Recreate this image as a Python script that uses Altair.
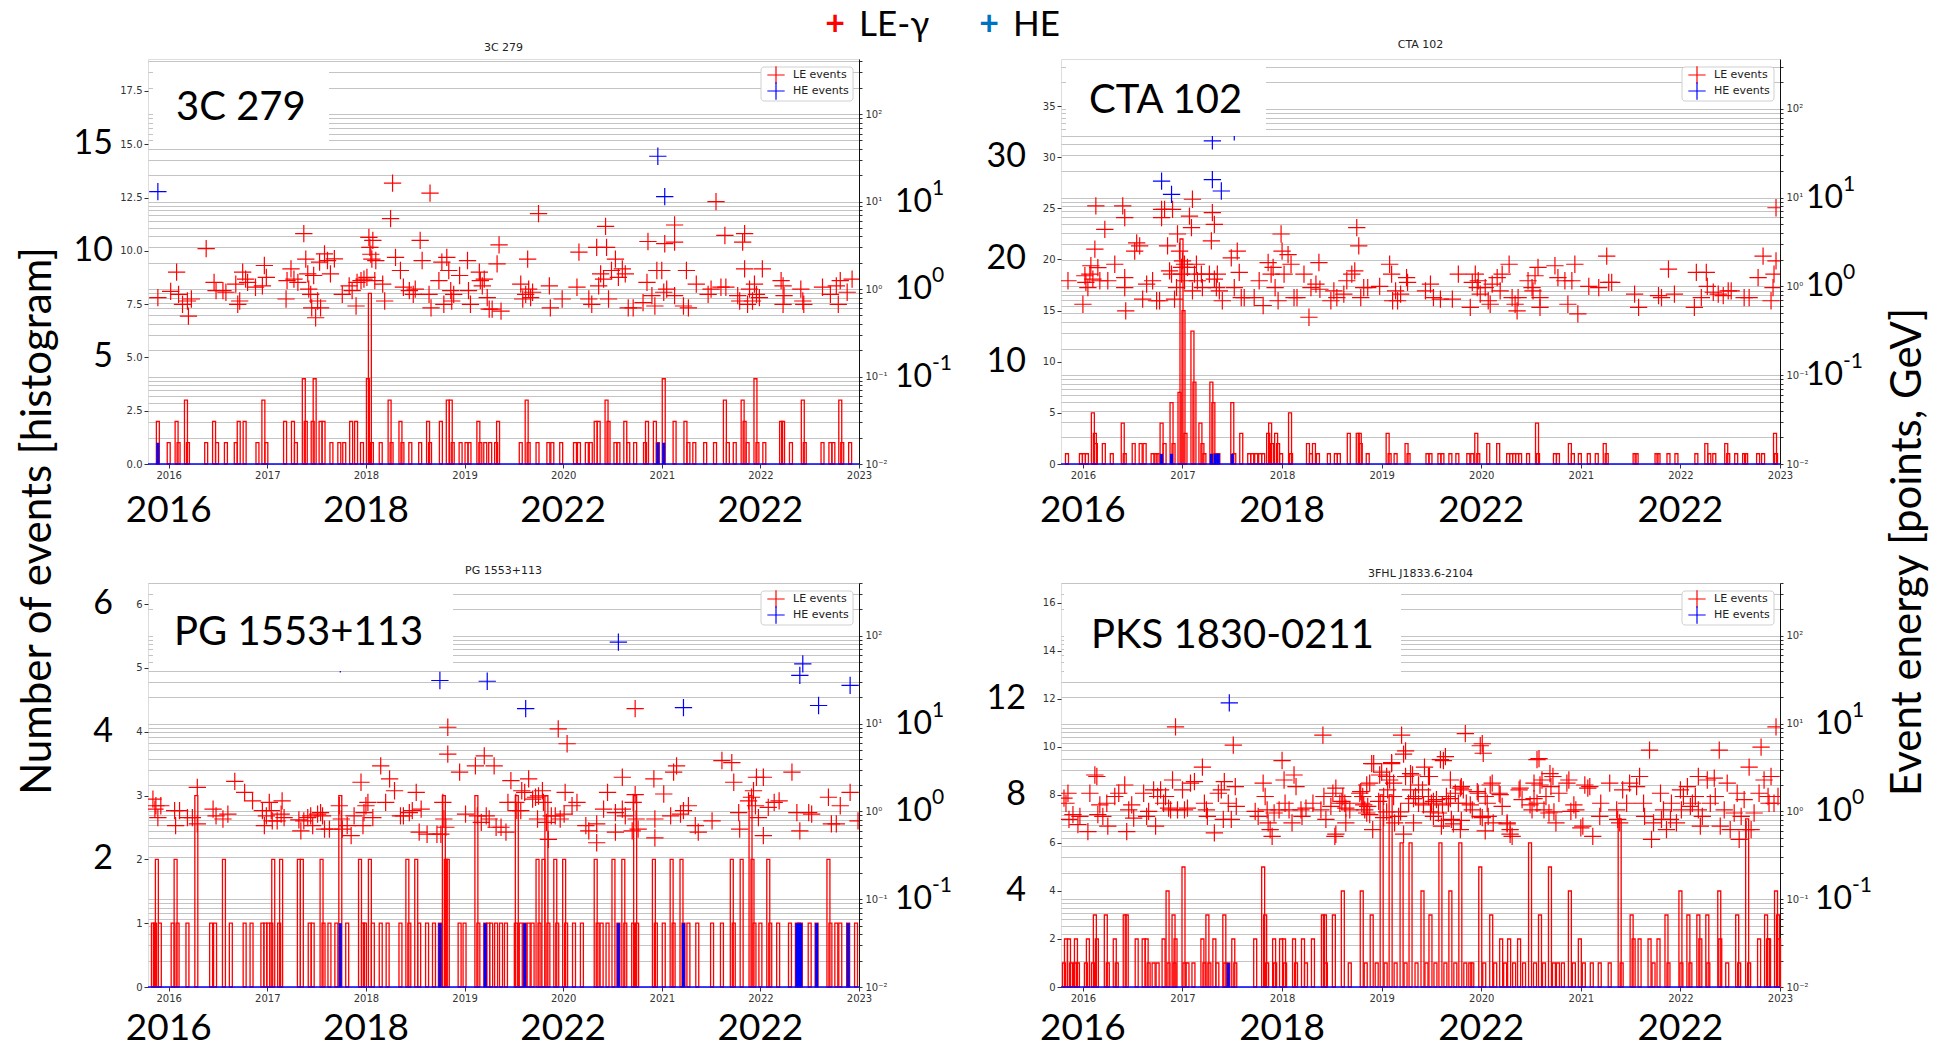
import altair as alt
import pandas as pd

BIG = "Lato"
SMALL = "DejaVu Sans"
RED = "#ff0000"
BLUE = "#0000ff"
CROSS = "M-1,0H1M0,-1V1"
BIN = 0.03  # histogram bin width in years

LOG_TICKS = [m * 10.0 ** k for k in range(-2, 3) for m in range(1, 10)]
LOG_LABELS = ("datum.value == 0.01 ? '10⁻²' : datum.value == 0.1 ? '10⁻¹' : "
              "datum.value == 1 ? '10⁰' : datum.value == 10 ? '10¹' : "
              "datum.value == 100 ? '10²' : ''")
YEARS = [2016, 2017, 2018, 2019, 2020, 2021, 2022, 2023]
BIG_YEAR_POS = [2016, 2018, 2020, 2022]
BIG_YEAR_TEXT = ["2016", "2018", "2022", "2022"]

# ---------------- 3C 279 ----------------
P1_HIST = [(2015.89,2),(2016.00,1),(2016.08,2),(2016.10,1),(2016.175,3),(2016.195,1),(2016.38,1),(2016.46,2),(2016.49,1),(2016.58,1),
           (2016.68,1),(2016.71,2),(2016.77,2),(2016.90,1),(2016.96,3),(2016.99,1),(2017.18,2),(2017.26,2),(2017.29,1),(2017.37,4),
           (2017.39,2),(2017.46,2),(2017.48,4),(2017.54,2),(2017.57,2),(2017.65,1),(2017.73,1),(2017.78,1),(2017.85,2),(2017.90,2),
           (2017.96,1),(2018.02,4),(2018.04,8),(2018.06,1),(2018.15,1),(2018.24,3),(2018.26,1),(2018.35,2),(2018.37,1),(2018.45,1),
           (2018.55,1),(2018.63,2),(2018.65,1),(2018.76,2),(2018.83,3),(2018.86,3),(2018.88,1),(2018.96,1),(2019.02,1),(2019.05,1),
           (2019.14,2),(2019.16,1),(2019.21,1),(2019.26,1),(2019.32,1),(2019.34,2),(2019.57,1),(2019.63,3),(2019.65,1),(2019.74,1),
           (2019.85,1),(2019.89,1),(2019.98,1),(2020.12,1),(2020.16,1),(2020.24,1),(2020.28,1),(2020.33,2),(2020.36,2),(2020.44,3),
           (2020.46,2),(2020.53,1),(2020.56,1),(2020.63,2),(2020.66,1),(2020.73,1),(2020.83,1),(2020.85,2),(2020.93,2),(2020.96,1),
           (2021.02,4),(2021.13,2),(2021.24,2),(2021.27,1),(2021.33,1),(2021.44,1),(2021.54,1),(2021.64,3),(2021.67,1),(2021.74,1),
           (2021.82,3),(2021.84,2),(2021.87,1),(2021.95,4),(2021.97,1),(2022.04,1),(2022.21,2),(2022.23,2),(2022.31,1),(2022.43,3),
           (2022.45,1),(2022.63,1),(2022.71,1),(2022.74,1),(2022.81,3),(2022.83,1),(2022.91,1)]
P1_HE_HIST = [(2015.89,1),(2020.96,1),(2021.02,1)]
P1_LE = [(2015.89,0.80),(2016.02,0.94),(2016.08,1.56),(2016.10,0.87),(2016.14,0.67),(2016.19,0.73),(2016.23,0.77),(2016.20,0.49),
         (2016.38,2.9),(2016.46,1.19),(2016.48,0.96),(2016.55,0.96),(2016.58,0.92),(2016.68,1.14),(2016.70,0.67),(2016.72,0.73),
         (2016.75,1.56),(2016.78,1.30),(2016.80,1.19),(2016.88,1.05),(2016.95,1.09),(2016.97,1.86),(2016.99,1.36),(2017.19,0.77),
         (2017.20,1.25),(2017.24,1.70),(2017.27,1.30),(2017.31,1.19),(2017.37,4.3),(2017.39,2.2),(2017.41,1.49),(2017.42,1.0),
         (2017.44,0.87),(2017.45,0.61),(2017.47,1.43),(2017.49,0.47),(2017.51,0.73),(2017.53,2.03),(2017.54,0.61),(2017.58,2.53),
         (2017.61,2.12),(2017.64,1.49),(2017.68,2.22),(2017.76,0.87),(2017.83,1.09),(2017.86,0.96),(2017.90,0.64),(2017.91,1.19),
         (2017.95,1.25),(2017.98,1.30),(2018.01,1.36),(2018.03,3.9),(2018.04,3.0),(2018.05,2.5),(2018.06,2.2),(2018.07,3.6),
         (2018.09,1.25),(2018.10,2.12),(2018.17,1.14),(2018.19,0.73),(2018.25,6.4),(2018.27,16.3),(2018.30,2.3),(2018.35,1.63),
         (2018.38,1.05),(2018.44,0.96),(2018.48,0.87),(2018.50,1.0),(2018.55,3.6),(2018.57,2.12),(2018.64,0.87),(2018.66,0.61),
         (2018.65,12.5),(2018.74,1.25),(2018.77,2.03),(2018.79,0.67),(2018.82,2.3),(2018.84,1.63),(2018.86,0.96),(2018.87,0.73),
         (2018.89,0.87),(2018.95,1.43),(2019.03,2.12),(2019.04,0.96),(2019.06,0.67),(2019.15,1.56),(2019.16,1.25),(2019.18,1.09),
         (2019.23,0.80),(2019.25,0.59),(2019.33,1.94),(2019.35,3.2),(2019.37,0.56),(2019.20,1.30),(2019.28,0.59),(2019.57,1.14),
         (2019.59,0.77),(2019.62,0.87),(2019.64,2.2),(2019.65,1.0),(2019.67,0.80),(2019.69,0.92),(2019.75,7.3),(2019.86,1.09),
         (2019.87,0.61),(2019.99,0.77),(2020.14,1.05),(2020.16,2.65),(2020.26,0.77),(2020.29,0.67),(2020.34,3.0),(2020.36,1.09),
         (2020.38,1.49),(2020.41,1.30),(2020.43,5.2),(2020.44,3.0),(2020.46,0.77),(2020.49,1.63),(2020.53,2.2),(2020.56,1.36),
         (2020.60,1.70),(2020.63,1.49),(2020.66,0.61),(2020.71,0.61),(2020.81,0.70),(2020.85,1.19),(2020.86,3.5),(2020.90,0.84),
         (2020.93,0.64),(2020.95,1.63),(2021.00,1.63),(2021.02,0.92),(2021.03,3.3),(2021.05,1.0),(2021.13,5.4),(2021.13,3.45),
         (2021.13,0.84),(2021.22,0.64),(2021.25,1.63),(2021.27,0.61),(2021.35,1.14),(2021.47,0.87),(2021.50,1.0),(2021.55,10.0),
         (2021.60,1.05),(2021.64,4.1),(2021.65,1.05),(2021.77,0.84),(2021.79,0.73),(2021.82,3.45),(2021.84,4.3),(2021.84,1.7),
         (2021.87,0.67),(2021.89,1.0),(2021.92,0.73),(2021.94,1.14),(2021.96,0.87),(2021.99,0.80),(2022.02,1.7),(2022.21,1.25),
         (2022.23,1.09),(2022.24,0.84),(2022.23,0.67),(2022.41,1.0),(2022.43,0.73),(2022.44,0.67),(2022.63,1.05),(2022.71,0.87),
         (2022.77,1.09),(2022.81,1.25),(2022.79,0.67),(2022.88,0.92),(2022.93,1.30)]
P1_HE = [(2015.89,13.0),(2020.96,33.0),(2021.03,11.4)]

# ---------------- CTA 102 ----------------
P2_HIST = [(2015.84,1),(2015.98,1),(2016.01,1),(2016.04,1),(2016.10,5),(2016.12,3),(2016.13,2),(2016.21,2),(2016.29,1),(2016.40,4),
           (2016.42,1),(2016.51,2),(2016.58,2),(2016.62,2),(2016.70,1),(2016.73,1),(2016.75,1),(2016.79,4),(2016.82,2),(2016.89,6),
           (2016.91,2),(2016.97,7),(2016.99,22),(2017.01,15),(2017.03,3),(2017.10,13),(2017.12,8),(2017.18,4),(2017.20,2),(2017.22,1),
           (2017.29,8),(2017.31,6),(2017.33,1),(2017.36,1),(2017.50,6),(2017.52,1),(2017.59,3),(2017.67,1),(2017.70,1),(2017.74,1),
           (2017.78,1),(2017.81,1),(2017.86,3),(2017.88,4),(2017.90,2),(2017.94,3),(2017.96,2),(2017.99,1),(2018.08,5),(2018.09,1),
           (2018.26,2),(2018.29,1),(2018.32,2),(2018.36,1),(2018.47,1),(2018.54,1),(2018.57,1),(2018.67,3),(2018.76,3),(2018.78,3),
           (2018.79,2),(2018.86,1),(2019.06,3),(2019.08,1),(2019.14,1),(2019.25,2),(2019.27,1),(2019.46,1),(2019.49,1),(2019.58,1),
           (2019.61,1),(2019.69,1),(2019.76,1),(2019.87,1),(2019.91,1),(2019.95,3),(2019.97,1),(2020.07,2),(2020.17,2),(2020.27,1),
           (2020.30,1),(2020.33,1),(2020.36,1),(2020.39,1),(2020.47,1),(2020.56,4),(2020.57,1),(2020.74,1),(2020.77,1),(2020.89,2),
           (2020.92,1),(2020.99,1),(2021.08,1),(2021.16,1),(2021.24,2),(2021.26,1),(2021.54,1),(2021.56,1),(2021.76,1),(2021.78,1),
           (2021.88,1),(2021.96,1),(2022.16,1),(2022.26,2),(2022.29,1),(2022.34,1),(2022.46,2),(2022.48,1),(2022.56,1),(2022.64,1),
           (2022.66,1),(2022.78,1),(2022.83,1),(2022.95,3),(2022.96,1)]
P2_HE_HIST = [(2016.79,1),(2016.89,1),(2017.29,1),(2017.33,1),(2017.36,1),(2017.50,1)]
P2_LE = [(2015.85,1.16),(2016.00,0.63),(2016.02,1.32),(2016.03,1.11),(2016.05,0.97),(2016.07,1.38),(2016.08,1.71),(2016.10,1.21),
         (2016.12,2.63),(2016.13,8.1),(2016.15,1.63),(2016.17,1.16),(2016.22,4.4),(2016.25,1.16),(2016.32,1.78),(2016.40,8.1),
         (2016.42,5.95),(2016.42,1.26),(2016.42,0.97),(2016.43,0.53),(2016.52,2.5),(2016.54,3.1),(2016.57,2.87),(2016.64,1.06),
         (2016.60,0.72),(2016.70,1.16),(2016.74,0.69),(2016.79,7.4),(2016.79,5.95),(2016.77,0.69),(2016.82,7.4),(2016.85,2.87),
         (2016.87,1.5),(2016.89,1.38),(2016.90,7.4),(2016.92,0.72),(2016.94,0.97),(2016.95,3.9),(2016.97,2.5),(2016.99,1.64),
         (2016.99,1.38),(2017.00,1.94),(2017.02,1.78),(2017.02,1.16),(2017.05,1.64),(2017.07,6.2),(2017.09,4.6),(2017.10,9.6),
         (2017.10,0.89),(2017.12,1.38),(2017.14,1.78),(2017.15,1.16),(2017.19,1.38),(2017.20,0.97),(2017.27,1.38),(2017.29,3.26),
         (2017.30,6.8),(2017.32,5.0),(2017.32,1.21),(2017.34,0.97),(2017.35,1.38),(2017.37,0.89),(2017.40,0.69),(2017.49,2.1),
         (2017.52,0.97),(2017.55,2.5),(2017.57,1.44),(2017.59,0.75),(2017.62,0.75),(2017.72,0.75),(2017.77,1.16),(2017.81,0.61),
         (2017.86,1.86),(2017.89,1.38),(2017.91,1.64),(2017.93,0.97),(2017.96,0.69),(2017.99,3.9),(2018.00,2.5),(2018.02,1.38),
         (2018.06,2.28),(2018.09,1.78),(2018.12,0.75),(2018.15,0.75),(2018.22,1.38),(2018.27,0.45),(2018.29,0.97),(2018.34,1.06),
         (2018.37,1.86),(2018.38,0.93),(2018.49,0.69),(2018.52,0.89),(2018.55,0.75),(2018.62,0.82),(2018.65,1.16),(2018.70,1.38),
         (2018.73,1.5),(2018.75,4.6),(2018.77,2.87),(2018.79,0.75),(2018.82,0.97),(2018.86,0.97),(2018.98,1.0),(2019.08,1.78),
         (2019.10,1.38),(2019.11,0.69),(2019.14,0.89),(2019.16,0.69),(2019.19,0.82),(2019.25,1.26),(2019.26,1.11),(2019.44,0.89),
         (2019.49,1.06),(2019.52,0.75),(2019.59,0.72),(2019.71,0.72),(2019.77,1.38),(2019.89,0.58),(2019.91,1.11),(2019.94,1.38),
         (2019.96,0.97),(2019.97,1.16),(2019.99,0.82),(2020.04,0.97),(2020.07,0.69),(2020.09,0.63),(2020.11,1.06),(2020.16,1.26),
         (2020.19,0.89),(2020.21,1.38),(2020.28,1.78),(2020.31,0.75),(2020.34,0.63),(2020.36,0.53),(2020.37,0.75),(2020.47,1.16),
         (2020.51,0.97),(2020.52,0.89),(2020.54,1.32),(2020.57,1.64),(2020.59,0.58),(2020.59,0.75),(2020.74,1.71),(2020.77,1.26),
         (2020.84,1.16),(2020.87,0.63),(2020.91,1.16),(2020.94,1.78),(2020.97,0.49),(2021.08,1.0),(2021.18,0.97),(2021.26,2.2),
         (2021.28,1.11),(2021.31,1.11),(2021.54,0.82),(2021.58,0.58),(2021.78,0.79),(2021.81,0.75),(2021.88,1.57),(2021.94,0.82),
         (2022.14,0.58),(2022.16,1.44),(2022.21,0.75),(2022.26,1.44),(2022.27,1.0),(2022.33,0.86),(2022.38,0.82),(2022.43,0.79),
         (2022.48,0.89),(2022.51,0.89),(2022.64,0.75),(2022.69,0.75),(2022.78,1.26),(2022.83,2.2),(2022.91,0.69),(2022.93,0.97),
         (2022.94,1.38),(2022.96,1.94),(2022.96,7.7)]
P2_HE = [(2016.79,15.4),(2016.89,10.9),(2017.30,43.6),(2017.30,16.0),(2017.39,11.9),(2017.52,55.0)]

# ---------------- PG 1553+113 ----------------
P3_HIST = [(2015.84,1),(2015.86,1),(2015.88,2),(2015.91,1),(2016.04,1),(2016.07,2),(2016.09,1),(2016.19,1),(2016.28,3),(2016.43,1),
           (2016.47,1),(2016.56,2),(2016.63,1),(2016.77,1),(2016.84,1),(2016.95,1),(2016.98,1),(2017.01,1),(2017.04,1),(2017.06,2),
           (2017.12,1),(2017.14,2),(2017.32,2),(2017.35,2),(2017.43,1),(2017.46,1),(2017.55,2),(2017.57,1),(2017.63,1),(2017.70,1),
           (2017.74,3),(2017.81,1),(2017.94,2),(2017.97,1),(2017.99,1),(2018.04,2),(2018.07,1),(2018.15,1),(2018.22,1),(2018.35,1),
           (2018.42,2),(2018.44,1),(2018.51,2),(2018.54,1),(2018.62,1),(2018.69,1),(2018.75,1),(2018.79,3),(2018.81,2),(2018.83,2),
           (2018.95,1),(2019.00,1),(2019.12,3),(2019.14,1),(2019.21,1),(2019.24,1),(2019.27,1),(2019.32,1),(2019.37,1),(2019.42,1),
           (2019.52,1),(2019.53,3),(2019.57,1),(2019.61,1),(2019.65,1),(2019.69,1),(2019.74,2),(2019.76,1),(2019.80,2),(2019.83,3),
           (2019.85,1),(2019.92,2),(2019.94,1),(2020.01,2),(2020.03,1),(2020.11,1),(2020.19,1),(2020.33,2),(2020.35,1),(2020.39,1),
           (2020.45,1),(2020.51,2),(2020.56,1),(2020.61,2),(2020.63,1),(2020.71,1),(2020.73,3),(2020.75,1),(2020.92,2),(2020.94,1),
           (2021.02,1),(2021.10,2),(2021.12,1),(2021.20,2),(2021.22,1),(2021.27,1),(2021.36,1),(2021.51,1),(2021.61,1),(2021.71,2),
           (2021.73,1),(2021.81,2),(2021.90,3),(2021.92,2),(2021.94,1),(2022.00,1),(2022.08,2),(2022.10,1),(2022.18,1),(2022.30,1),
           (2022.37,1),(2022.39,1),(2022.41,1),(2022.50,1),(2022.57,1),(2022.69,2),(2022.71,1),(2022.77,1),(2022.81,1),(2022.89,1),
           (2022.97,1)]
P3_HE_HIST = [(2017.74,1),(2018.75,1),(2019.21,1),(2019.61,1),(2020.56,1),(2021.22,1),(2022.37,1),(2022.39,1),(2022.41,1),
              (2022.57,1),(2022.89,1)]
P3_LE = [(2015.84,1.38),(2015.86,1.06),(2015.87,1.16),(2015.89,0.85),(2015.92,1.16),(2016.06,1.02),(2016.07,0.69),(2016.11,1.02),
         (2016.19,0.85),(2016.24,0.85),(2016.29,1.88),(2016.29,0.72),(2016.45,1.06),(2016.48,0.89),(2016.55,0.82),(2016.60,0.93),
         (2016.67,2.2),(2016.77,1.65),(2016.85,1.32),(2016.95,1.02),(2016.97,0.69),(2016.99,0.89),(2017.02,1.27),(2017.04,1.02),
         (2017.05,0.78),(2017.10,0.78),(2017.14,0.93),(2017.15,1.32),(2017.17,0.85),(2017.32,0.80),(2017.34,0.60),(2017.37,0.78),
         (2017.41,0.85),(2017.44,0.89),(2017.46,0.69),(2017.51,0.93),(2017.54,0.97),(2017.56,0.89),(2017.58,0.63),(2017.63,0.63),
         (2017.73,1.16),(2017.75,0.82),(2017.76,0.63),(2017.81,0.69),(2017.85,0.53),(2017.88,0.89),(2017.95,2.15),(2017.97,0.69),
         (2017.98,0.97),(2018.00,1.16),(2018.02,1.27),(2018.07,0.85),(2018.15,3.3),(2018.20,1.27),(2018.24,2.35),(2018.29,1.72),
         (2018.35,0.89),(2018.38,0.89),(2018.44,0.97),(2018.47,1.02),(2018.51,1.65),(2018.54,0.58),(2018.56,1.06),(2018.62,0.55),
         (2018.72,0.55),(2018.76,0.55),(2018.78,1.27),(2018.79,0.82),(2018.81,0.66),(2018.83,4.5),(2018.83,9.1),(2018.95,2.8),
         (2019.01,0.93),(2019.11,3.3),(2019.13,0.89),(2019.17,0.75),(2019.20,4.3),(2019.22,0.89),(2019.25,0.82),(2019.30,3.3),
         (2019.32,0.66),(2019.37,0.66),(2019.42,0.58),(2019.44,1.27),(2019.47,2.24),(2019.52,1.27),(2019.53,1.02),(2019.57,1.02),
         (2019.58,1.72),(2019.61,1.65),(2019.65,2.35),(2019.69,1.38),(2019.72,1.45),(2019.74,0.82),(2019.75,1.5),(2019.79,1.72),
         (2019.80,1.27),(2019.83,0.75),(2019.85,0.48),(2019.88,0.89),(2019.92,0.89),(2019.95,8.7),(2019.97,0.82),(2020.01,0.93),
         (2020.02,1.65),(2020.04,5.9),(2020.09,1.16),(2020.14,1.27),(2020.23,0.69),(2020.26,0.60),(2020.34,0.72),(2020.34,0.44),
         (2020.45,1.65),(2020.41,1.06),(2020.53,0.97),(2020.53,0.58),(2020.60,2.45),(2020.60,1.06),(2020.63,0.89),(2020.70,0.60),
         (2020.71,1.27),(2020.73,1.55),(2020.73,14.8),(2020.74,0.82),(2020.76,0.63),(2020.92,2.35),(2020.93,0.82),(2020.93,0.50),
         (2021.02,1.58),(2021.09,0.89),(2021.12,2.8),(2021.15,3.3),(2021.19,0.93),(2021.22,1.02),(2021.27,1.16),(2021.34,0.69),
         (2021.37,0.58),(2021.51,0.78),(2021.61,3.8),(2021.71,3.6),(2021.73,2.15),(2021.78,0.97),(2021.79,0.63),(2021.88,1.32),
         (2021.91,1.45),(2021.93,1.72),(2021.95,1.16),(2021.96,2.45),(2021.98,0.85),(2022.03,2.45),(2022.03,0.53),(2022.08,1.11),
         (2022.14,1.27),(2022.19,1.32),(2022.32,2.8),(2022.37,0.97),(2022.40,0.60),(2022.49,0.97),(2022.52,0.93),(2022.69,1.45),
         (2022.72,0.72),(2022.77,0.72),(2022.81,1.16),(2022.91,1.65),(2022.99,0.78)]
P3_HE = [(2017.74,48.0),(2018.75,31.0),(2019.23,30.4),(2019.62,14.8),(2020.56,85.0),(2021.22,15.2),(2022.40,35.5),
         (2022.43,48.0),(2022.59,16.1),(2022.91,27.3)]

# ---------------- PKS 1830-0211 (3FHL J1833.6-2104) ----------------
P4_HIST = [(2015.81,1),(2015.83,2),(2015.86,2),(2015.88,1),(2015.92,1),(2015.93,2),(2015.95,1),(2016.03,1),(2016.05,2),(2016.10,1),
           (2016.12,3),(2016.14,2),(2016.23,3),(2016.25,1),(2016.32,2),(2016.34,1),(2016.42,3),(2016.44,3),(2016.54,2),(2016.61,2),
           (2016.64,2),(2016.66,1),(2016.71,1),(2016.75,1),(2016.81,2),(2016.85,4),(2016.86,1),(2016.91,3),(2016.92,1),(2016.93,2),
           (2017.01,5),(2017.02,1),(2017.05,1),(2017.11,1),(2017.20,2),(2017.22,1),(2017.25,3),(2017.27,1),(2017.32,2),(2017.35,1),
           (2017.42,3),(2017.43,1),(2017.46,1),(2017.51,2),(2017.53,1),(2017.73,2),(2017.81,5),(2017.83,3),(2017.85,1),(2017.92,2),
           (2017.93,1),(2017.99,2),(2018.02,2),(2018.03,1),(2018.12,2),(2018.14,1),(2018.21,2),(2018.24,1),(2018.31,2),(2018.41,3),
           (2018.43,3),(2018.44,1),(2018.52,3),(2018.61,4),(2018.68,1),(2018.80,4),(2018.84,1),(2018.90,3),(2018.95,1),(2019.00,8),
           (2019.04,1),(2019.09,8),(2019.14,1),(2019.20,6),(2019.24,1),(2019.29,6),(2019.35,1),(2019.41,4),(2019.45,1),(2019.49,3),
           (2019.54,1),(2019.59,6),(2019.64,1),(2019.69,4),(2019.74,1),(2019.79,6),(2019.84,1),(2019.89,1),(2019.91,1),(2019.99,5),
           (2020.03,1),(2020.10,3),(2020.14,1),(2020.20,2),(2020.24,1),(2020.28,2),(2020.33,1),(2020.38,2),(2020.43,1),(2020.49,6),
           (2020.54,1),(2020.59,3),(2020.63,1),(2020.69,5),(2020.73,1),(2020.77,1),(2020.82,1),(2020.89,4),(2020.93,1),(2020.99,2),
           (2021.03,1),(2021.11,1),(2021.19,1),(2021.29,1),(2021.39,7),(2021.41,1),(2021.51,3),(2021.53,2),(2021.59,2),(2021.69,2),
           (2021.73,1),(2021.78,2),(2021.86,3),(2021.88,1),(2022.00,4),(2022.01,1),(2022.08,3),(2022.10,1),(2022.18,3),(2022.20,2),
           (2022.27,3),(2022.28,1),(2022.39,4),(2022.40,2),(2022.47,1),(2022.57,3),(2022.59,1),(2022.67,7),(2022.69,1),(2022.79,2),
           (2022.86,3),(2022.88,2),(2022.89,2),(2022.96,4),(2022.98,3),(2022.99,2)]
P4_HE_HIST = [(2017.46,1)]
P4_LE = [(2015.81,1.42),(2015.83,1.24),(2015.85,1.61),(2015.86,0.81),(2015.90,0.92),(2015.95,0.71),(2015.97,0.88),(2016.05,0.59),
         (2016.07,1.61),(2016.12,2.6),(2016.14,2.5),(2016.15,0.92),(2016.17,1.19),(2016.20,0.88),(2016.24,1.24),(2016.25,0.68),
         (2016.32,1.48),(2016.36,1.61),(2016.42,2.0),(2016.44,0.59),(2016.46,1.04),(2016.49,1.19),(2016.51,0.84),(2016.61,1.61),
         (2016.64,0.88),(2016.66,1.0),(2016.71,1.76),(2016.73,0.68),(2016.75,1.48),(2016.78,1.76),(2016.81,1.24),(2016.83,1.48),
         (2016.86,1.09),(2016.88,1.04),(2016.90,2.28),(2016.93,9.2),(2016.95,1.04),(2017.00,1.76),(2017.02,1.04),(2017.05,1.09),
         (2017.08,2.1),(2017.12,2.18),(2017.20,3.2),(2017.22,1.24),(2017.24,1.04),(2017.25,0.88),(2017.32,0.57),(2017.36,1.61),
         (2017.39,1.76),(2017.42,2.18),(2017.41,0.81),(2017.46,1.24),(2017.49,0.81),(2017.51,5.7),(2017.53,1.92),(2017.54,1.14),
         (2017.73,1.0),(2017.76,0.88),(2017.81,2.1),(2017.83,1.48),(2017.85,1.04),(2017.86,0.74),(2017.88,0.62),(2017.90,0.52),
         (2017.92,0.96),(2017.97,1.04),(2018.00,3.8),(2018.02,2.28),(2018.03,1.24),(2018.07,1.04),(2018.10,0.74),(2018.12,2.6),
         (2018.14,1.92),(2018.19,1.04),(2018.20,0.88),(2018.24,1.09),(2018.31,1.24),(2018.39,1.04),(2018.41,7.4),(2018.42,1.48),
         (2018.44,0.81),(2018.49,1.14),(2018.51,1.61),(2018.53,0.52),(2018.58,1.24),(2018.61,1.48),(2018.63,1.24),(2018.64,0.74),
         (2018.68,1.04),(2018.78,1.61),(2018.80,1.24),(2018.81,1.48),(2018.83,1.04),(2018.85,0.96),(2018.86,1.14),(2018.88,2.1),
         (2018.90,3.5),(2018.91,0.62),(2018.98,2.6),(2019.00,2.8),(2019.02,1.48),(2019.05,2.5),(2019.06,1.76),(2019.08,2.28),
         (2019.10,3.5),(2019.12,1.48),(2019.13,0.74),(2019.17,0.88),(2019.20,7.4),(2019.22,4.5),(2019.24,2.5),(2019.27,1.24),
         (2019.29,1.76),(2019.31,2.6),(2019.32,0.74),(2019.34,1.48),(2019.37,1.24),(2019.41,1.76),(2019.43,3.2),(2019.47,1.48),
         (2019.48,2.5),(2019.50,1.24),(2019.52,0.88),(2019.55,1.36),(2019.57,0.96),(2019.60,0.68),(2019.62,3.8),(2019.64,4.2),
         (2019.65,1.48),(2019.67,1.24),(2019.69,2.28),(2019.70,0.81),(2019.74,1.61),(2019.77,1.24),(2019.79,0.62),(2019.80,1.92),
         (2019.82,1.76),(2019.84,7.7),(2019.85,1.24),(2019.91,1.04),(2019.97,1.61),(2019.99,0.88),(2020.01,5.9),(2020.02,4.6),
         (2020.04,1.48),(2020.06,1.24),(2020.07,0.88),(2020.11,2.1),(2020.12,0.74),(2020.18,1.61),(2020.21,1.14),(2020.26,0.74),
         (2020.29,0.62),(2020.31,0.52),(2020.38,1.76),(2020.41,1.36),(2020.51,1.04),(2020.53,2.1),(2020.56,1.24),(2020.58,4.0),
         (2020.61,2.28),(2020.63,1.04),(2020.65,1.48),(2020.68,0.96),(2020.70,1.92),(2020.72,2.5),(2020.75,0.74),(2020.78,1.61),
         (2020.88,2.28),(2020.90,1.0),(2020.95,1.04),(2021.02,0.68),(2021.04,2.0),(2021.09,1.92),(2021.12,0.52),(2021.19,0.88),
         (2021.20,1.24),(2021.29,2.1),(2021.36,1.04),(2021.37,0.81),(2021.39,0.74),(2021.42,1.76),(2021.46,1.24),(2021.49,2.1),
         (2021.56,1.92),(2021.59,2.5),(2021.63,1.24),(2021.64,0.88),(2021.69,5.0),(2021.71,0.48),(2021.73,0.74),(2021.80,1.61),
         (2021.81,0.81),(2021.83,1.04),(2021.86,0.62),(2021.90,0.81),(2021.91,1.24),(2021.96,0.74),(2022.00,1.76),(2022.01,1.04),
         (2022.03,1.48),(2022.07,1.92),(2022.10,1.14),(2022.12,1.24),(2022.15,1.48),(2022.18,1.04),(2022.18,2.5),(2022.20,0.68),
         (2022.22,0.88),(2022.27,2.28),(2022.30,1.24),(2022.34,2.4),(2022.35,1.48),(2022.39,5.0),(2022.40,0.68),(2022.44,1.04),
         (2022.47,2.1),(2022.50,0.62),(2022.54,0.96),(2022.57,1.61),(2022.59,0.48),(2022.61,0.88),(2022.64,1.36),(2022.66,0.62),
         (2022.69,3.2),(2022.71,0.62),(2022.74,0.96),(2022.79,1.61),(2022.81,5.4),(2022.84,2.28),(2022.88,1.48),(2022.89,1.24),
         (2022.91,2.5),(2022.94,1.24),(2022.96,9.2),(2022.98,1.48),
         (2018.54,1.84),(2018.60,1.30),(2018.64,1.09),(2018.54,0.55),(2018.79,1.68),(2018.82,1.19),(2018.85,2.0),(2018.88,0.92),
         (2018.92,3.5),(2018.97,1.30),(2019.02,0.85),(2019.05,0.99),(2019.10,3.6),(2019.12,2.1),(2019.19,0.99),(2019.22,0.55),
         (2019.24,4.9),(2019.29,2.7),(2019.32,1.4),(2019.37,2.0),(2019.42,1.19),(2019.47,2.5),(2019.49,0.99),(2019.52,1.30),
         (2019.59,3.9),(2019.61,1.19),(2019.62,0.79),(2019.69,1.4),(2019.72,0.72),(2019.79,1.84),(2019.80,0.79),(2019.89,1.19),
         (2019.96,1.68),(2019.99,5.6),(2020.01,0.85),(2020.04,0.60),(2020.09,2.0),(2020.19,1.55),(2020.26,0.72),(2020.29,0.55),
         (2020.39,1.84),(2020.49,1.19),(2020.53,1.4),(2020.56,3.9),(2020.59,2.0),(2020.69,2.7),(2020.73,0.99),(2020.86,2.1),
         (2020.93,1.19),(2021.00,0.65),(2021.07,1.84)]
P4_HE = [(2017.47,17.2)]

PANELS = [
    dict(title="3C 279", name="3C 279", w=711, h=405, xdom=[2015.79, 2023.0], ymax=19.0, emax=427.0,
         yticks=[0, 2.5, 5, 7.5, 10, 12.5, 15, 17.5], yfmt=".1f", big_left=[15, 10, 5], right_off=36,
         box=(5, 181, 12, 82), name_xy=(28, 49), year_dy=47, title_y=-11,
         hist=P1_HIST, he_hist=P1_HE_HIST, le=P1_LE, he=P1_HE),
    dict(title="CTA 102", name="CTA 102", w=719, h=405, xdom=[2015.78, 2023.0], ymax=39.6, emax=365.0,
         yticks=[0, 5, 10, 15, 20, 25, 30, 35], yfmt="d", big_left=[30, 20, 10], right_off=26,
         box=(5, 205, 7, 77), name_xy=(28, 42), year_dy=47, title_y=-14,
         hist=P2_HIST, he_hist=P2_HE_HIST, le=P2_LE, he=P2_HE),
    dict(title="PG 1553+113", name="PG 1553+113", w=711, h=404, xdom=[2015.79, 2023.0], ymax=6.33, emax=400.0,
         yticks=[0, 1, 2, 3, 4, 5, 6], yfmt="d", big_left=[6, 4, 2], right_off=36,
         box=(5, 305, 10, 88), name_xy=(26, 50), year_dy=42, title_y=-12,
         hist=P3_HIST, he_hist=P3_HE_HIST, le=P3_LE, he=P3_HE),
    dict(title="3FHL J1833.6-2104", name="PKS 1830-0211", w=719, h=404, xdom=[2015.78, 2023.0], ymax=16.83, emax=400.0,
         yticks=[0, 2, 4, 6, 8, 10, 12, 14, 16], yfmt="d", big_left=[12, 8, 4], right_off=35,
         box=(3, 340, 11, 91), name_xy=(30, 53), year_dy=42, title_y=-9,
         hist=P4_HIST, he_hist=P4_HE_HIST, le=P4_LE, he=P4_HE),
]

ONE = pd.DataFrame({"k": [0]})


def small_axis(**kw):
    base = dict(labelFont=SMALL, labelFontSize=10, labelColor="#333333", tickColor="#333333",
                tickSize=4, domain=False, grid=False, title=None, labelPadding=2,
                labelOverlap=False)
    base.update(kw)
    return alt.Axis(**base)


def value_text(s, x, y, **mark):
    return alt.Chart(ONE).mark_text(**mark).encode(x=alt.value(x), y=alt.value(y), text=alt.value(s))


def make_panel(cfg, extras=()):
    W, H = cfg["w"], cfg["h"]
    # every y-using layer below carries the same explicit domain, so the
    # independently resolved scales map identically
    xs = alt.Scale(domain=cfg["xdom"], nice=False, zero=False)
    ys = alt.Scale(domain=[0, cfg["ymax"]], nice=False, zero=True)
    ls = alt.Scale(type="log", domain=[0.01, cfg["emax"]], nice=False)
    log_ticks = [v for v in LOG_TICKS if v <= cfg["emax"]]

    hist = pd.DataFrame(cfg["hist"], columns=["t", "n"])
    he_hist = pd.DataFrame(cfg["he_hist"], columns=["t", "n"])
    half = f"{BIN / 2}"

    # event energies (right log axis, carries the grid)
    le = pd.DataFrame(cfg["le"], columns=["t", "e"])
    he = pd.DataFrame(cfg["he"], columns=["t", "e"])
    le_pts = alt.Chart(le).mark_point(shape=CROSS, size=300, filled=False, color=RED,
                                      strokeWidth=1.2, opacity=1, clip=True).encode(
        x=alt.X("t:Q", scale=xs, axis=None),
        y=alt.Y("e:Q", scale=ls, axis=small_axis(
            orient="right", values=log_ticks, labelExpr=LOG_LABELS, grid=True,
            gridColor="#c4c4c4", gridWidth=1.2, domain=True, domainColor="#111111",
            tickSize=3, labelPadding=3)),
    )
    he_pts = alt.Chart(he).mark_point(shape=CROSS, size=300, filled=False, color=BLUE,
                                      strokeWidth=1.2, opacity=1, clip=True).encode(
        x=alt.X("t:Q", scale=xs, axis=None), y=alt.Y("e:Q", scale=ls, axis=None))

    # histogram (left linear axis, bottom time axis)
    le_bars = alt.Chart(hist).transform_calculate(
        t0=f"datum.t - {half}", t1=f"datum.t + {half}", z="0"
    ).mark_rect(filled=False, color=RED, strokeWidth=1.3).encode(
        x=alt.X("t0:Q", scale=xs, axis=small_axis(values=YEARS, format="d", labelFlush=False, orient="bottom")),
        x2="t1:Q",
        y=alt.Y("n:Q", scale=ys, axis=small_axis(values=cfg["yticks"], format=cfg["yfmt"], orient="left")),
        y2="z:Q",
    )
    he_bars = alt.Chart(he_hist).transform_calculate(
        t0=f"datum.t - {half}", t1=f"datum.t + {half}", z="0"
    ).mark_rect(color=BLUE).encode(
        x=alt.X("t0:Q", scale=xs, axis=None), x2="t1:Q",
        y=alt.Y("n:Q", scale=ys, axis=None), y2="z:Q",
    )
    baseline = alt.Chart(ONE).mark_rule(color=BLUE, strokeWidth=1.6).encode(
        y=alt.Y("k:Q", scale=ys, axis=None), x=alt.value(0), x2=alt.value(W)
    )

    # large annotation numbers around the frame
    left_labels = alt.Chart(pd.DataFrame({"v": cfg["big_left"], "s": [str(v) for v in cfg["big_left"]]})).mark_text(
        font=BIG, fontSize=34, align="right", baseline="middle", color="black"
    ).encode(y=alt.Y("v:Q", scale=ys, axis=None), x=alt.value(-35), text="s:N")
    year_labels = alt.Chart(pd.DataFrame({"v": BIG_YEAR_POS, "s": BIG_YEAR_TEXT})).mark_text(
        font=BIG, fontSize=37, align="center", baseline="middle", color="black"
    ).encode(x=alt.X("v:Q", scale=xs, axis=None), y=alt.value(H + cfg["year_dy"]), text="s:N")
    decades = pd.DataFrame({"v": [10, 1, 0.1], "p": ["1", "0", "-1"]})
    x10 = W + cfg["right_off"]
    right_base = alt.Chart(decades).mark_text(
        font=BIG, fontSize=32, align="left", baseline="middle", color="black"
    ).encode(y=alt.Y("v:Q", scale=ls, axis=None), x=alt.value(x10), text=alt.value("10"))
    right_exp = alt.Chart(decades).mark_text(
        font=BIG, fontSize=21, align="left", baseline="middle", color="black", dy=-13
    ).encode(y=alt.Y("v:Q", scale=ls, axis=None), x=alt.value(x10 + 37), text="p:N")

    # small plot title
    title = value_text(cfg["title"], W / 2, cfg["title_y"], font=SMALL, fontSize=11,
                       align="center", baseline="middle", color="#222222")

    # white label box with the source name
    bx0, bx1, by0, by1 = cfg["box"]
    name_box = alt.Chart(ONE).mark_rect(color="white").encode(
        x=alt.value(bx0), x2=alt.value(bx1), y=alt.value(by0), y2=alt.value(by1))
    name_text = value_text(cfg["name"], cfg["name_xy"][0], cfg["name_xy"][1], font=BIG, fontSize=40,
                           align="left", baseline="middle", color="black")

    # legend box in the upper-right corner
    leg_box = alt.Chart(ONE).mark_rect(color="white", stroke="#d0d0d0", strokeWidth=1, cornerRadius=3).encode(
        x=alt.value(W - 98), x2=alt.value(W - 6), y=alt.value(8), y2=alt.value(42))
    leg_le = alt.Chart(ONE).mark_point(shape=CROSS, size=300, filled=False, strokeWidth=1.2, opacity=1, color=RED).encode(
        x=alt.value(W - 83), y=alt.value(16))
    leg_he = alt.Chart(ONE).mark_point(shape=CROSS, size=300, filled=False, strokeWidth=1.2, opacity=1, color=BLUE).encode(
        x=alt.value(W - 83), y=alt.value(32))
    leg_le_t = value_text("LE events", W - 66, 16, font=SMALL, fontSize=11, align="left",
                          baseline="middle", color="#222222")
    leg_he_t = value_text("HE events", W - 66, 32, font=SMALL, fontSize=11, align="left",
                          baseline="middle", color="#222222")

    return alt.layer(
        le_pts, he_pts, le_bars, he_bars, baseline, left_labels, year_labels, right_base, right_exp,
        title, name_box, name_text, leg_box, leg_le, leg_he, leg_le_t, leg_he_t, *extras
    ).resolve_scale(y="independent").resolve_axis(x="independent").properties(width=W, height=H)


# figure-wide annotations, positioned relative to the first panel
anchor = alt.Chart(ONE).mark_rect(color="white").encode(
    x=alt.value(-147), x2=alt.value(-146), y=alt.value(-58), y2=alt.value(-57))

key_marks = [
    value_text("+", 687, -24, font=BIG, fontSize=34, fontWeight="bold", align="center", baseline="alphabetic", color=RED),
    value_text("LE-γ", 711, -23, font=BIG, fontSize=35, align="left", baseline="alphabetic", color="black"),
    value_text("+", 841, -24, font=BIG, fontSize=34, fontWeight="bold", align="center", baseline="alphabetic", color="#0070c0"),
    value_text("HE", 865, -23, font=BIG, fontSize=35, align="left", baseline="alphabetic", color="black"),
]
left_title = value_text("Number of events [histogram]", -110, 462, font=BIG, fontSize=42, angle=270,
                        align="center", baseline="middle", color="black")
right_title = value_text("Event energy [points, GeV]", 847, 493, font=BIG, fontSize=42, angle=270,
                         align="center", baseline="middle", color="black")

p1 = make_panel(PANELS[0], extras=(anchor, *key_marks, left_title))
p2 = make_panel(PANELS[1], extras=(right_title,))
p3 = make_panel(PANELS[2])
p4 = make_panel(PANELS[3])

chart = alt.concat(
    p1, p2, p3, p4, columns=2, spacing={"row": 119, "column": 202}, bounds="flush"
).properties(
    padding={"left": 0, "top": 0, "right": 0, "bottom": 0}
).configure_view(stroke="#555555", strokeWidth=1).configure(background="white")

chart.save("out.html", embed_options={"renderer": "svg", "actions": False})
